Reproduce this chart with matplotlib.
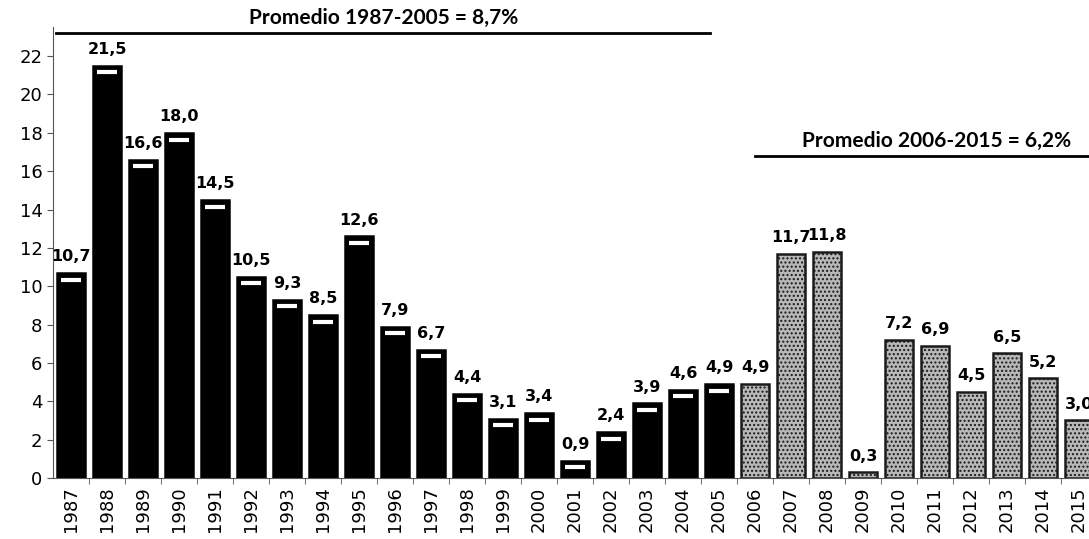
import matplotlib.pyplot as plt

# Data
years = list(range(1987, 2016))
values = [10.7, 21.5, 16.6, 18.0, 14.5, 10.5, 9.3, 8.5, 12.6, 7.9,
          6.7, 4.4, 3.1, 3.4, 0.9, 2.4, 3.9, 4.6, 4.9, 4.9,
          11.7, 11.8, 0.3, 7.2, 6.9, 4.5, 6.5, 5.2, 3.0]
split_year = 2006
avg_labels = ["Promedio 1987-2005 = 8,7%", "Promedio 2006-2015 = 6,2%"]

fig = plt.figure(figsize=(10.89, 5.39), dpi=100)
ax = fig.add_axes([0.0487, 0.1132, 0.9587, 0.836])

x = list(range(len(years)))
colors = ["black" if y < split_year else "#b8b8b8" for y in years]
bars = ax.bar(x, values, width=0.78, color=colors, edgecolor="black", linewidth=1.8)
for b, y in zip(bars, years):
    if y >= split_year:
        b.set_hatch("....")
        b.set_edgecolor("#1a1a1a")

# small white highlight near the top of the dark bars
for xi, v, y in zip(x, values, years):
    if y < split_year and v > 0.8:
        ax.plot(xi, v - 0.35, marker="_", markersize=14, mew=3, color="white")

for xi, v in zip(x, values):
    ax.text(xi, v + 0.45, f"{v:.1f}".replace(".", ","), ha="center", va="bottom",
            fontsize=11.5, fontweight="bold", family="DejaVu Sans")

ax.set_xlim(-0.5, len(years) - 0.5)
ax.set_ylim(0, 23.5)
ax.set_yticks(range(0, 23, 2))
ax.set_xticks(x)
ax.set_xticklabels([str(y) for y in years], rotation=90, fontsize=13)
ax.set_xticks([i + 0.5 for i in x[:-1]], minor=True)
ax.tick_params(axis="x", which="major", length=0, pad=6)
ax.tick_params(axis="x", which="minor", length=4, color="#555555")
ax.tick_params(axis="y", labelsize=13, length=4, color="#555555")

for s in ["top", "right"]:
    ax.spines[s].set_visible(False)
ax.spines["left"].set_color("#555555")
ax.spines["bottom"].set_color("#555555")

# Average lines
ax.plot([-0.42, 17.75], [23.2, 23.2], color="black", lw=2, clip_on=False)
ax.text(8.67, 24.0, avg_labels[0], ha="center", va="center", fontsize=15,
        fontweight="bold", family="Lato")
ax.plot([19.0, 28.6], [16.8, 16.8], color="black", lw=2, clip_on=False)
ax.text(24.05, 17.6, avg_labels[1], ha="center", va="center", fontsize=15,
        fontweight="bold", family="Lato")

plt.savefig("out.png", dpi=100)
